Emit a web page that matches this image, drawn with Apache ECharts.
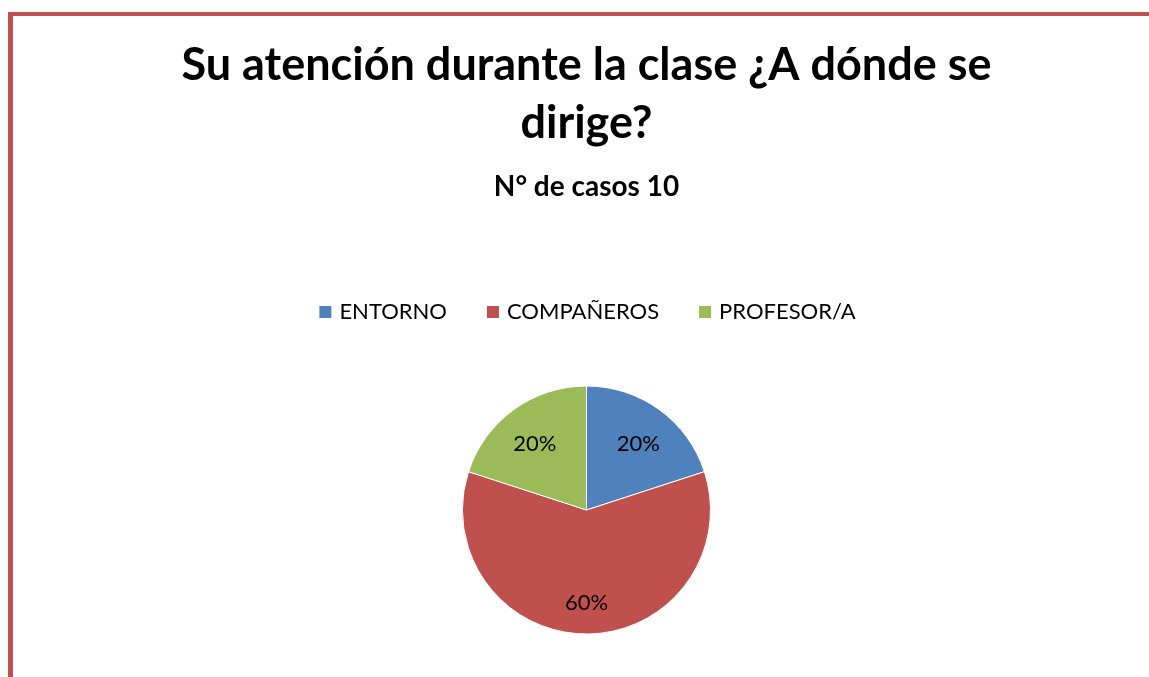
<!DOCTYPE html>
<html>
<head>
<meta charset="utf-8">
<script src="https://cdn.jsdelivr.net/npm/echarts@6/dist/echarts.min.js"></script>
<style>
  html, body { margin: 0; padding: 0; background: #fff; }
  #frame {
    position: absolute; left: 8px; top: 12px; width: 1141px; height: 665px;
    border-top: 4px solid #c0504d; border-left: 5px solid #c0504d;
  }
  #main { position: absolute; left: 24px; top: 0; width: 1125px; height: 677px; }
</style>
</head>
<body>
<div id="frame"></div>
<div id="main"></div>
<script>
// datos de la encuesta
var categorias = ['ENTORNO', 'COMPAÑEROS', 'PROFESOR/A'];
var casos = [2, 6, 2];
var colores = ['#4f81bd', '#c0504d', '#9bbb59'];

var myChart = echarts.init(document.getElementById('main'));
var fuente = 'Lato';

var datos = [];
for (var i = 0; i < categorias.length; i++) {
	datos.push({
		name: categorias[i],
		value: casos[i],
		itemStyle: { color: colores[i] }
	});
}

var option = {
	animation: false,
	title: [{
		text: 'Su atención durante la clase ¿A dónde se\ndirige?',
		left: 'center',
		top: 31,
		textStyle: { fontFamily: fuente, fontWeight: 'bold', fontSize: 45, lineHeight: 58, color: '#000' }
	}, {
		text: 'N° de casos 10',
		left: 'center',
		top: 168,
		textStyle: { fontFamily: fuente, fontWeight: 'bold', fontSize: 28, color: '#000' }
	}],
	legend: {
		data: categorias,
		top: 296,
		left: 'center',
		icon: 'rect',
		itemWidth: 14,
		itemHeight: 14,
		itemGap: 38,
		textStyle: { fontFamily: fuente, fontSize: 22, color: '#000', padding: [0, 0, 0, 2] }
	},
	series: [
		{
			// sectores visibles
			type: 'pie',
			center: ['50%', 510],
			radius: 124,
			startAngle: 90,
			clockwise: true,
			silent: true,
			label: { show: false },
			labelLine: { show: false },
			itemStyle: { borderColor: '#fff', borderWidth: 1 },
			data: datos
		},
		{
			// solo etiquetas, un poco hacia fuera como en Excel
			type: 'pie',
			center: ['50%', 510],
			radius: [46, 124],
			startAngle: 90,
			clockwise: true,
			silent: true,
			itemStyle: { color: 'rgba(0,0,0,0)' },
			label: {
				show: true,
				position: 'inside',
				formatter: '{d}%',
				offset: [0, 5],
				fontFamily: fuente,
				fontSize: 22,
				color: '#000'
			},
			labelLine: { show: false },
			data: categorias.map(function (c, i) { return { name: c, value: casos[i] }; })
		}
	]
};

myChart.setOption(option);
window.addEventListener('resize', function () {
	myChart.resize();
});
</script>
</body>
</html>
